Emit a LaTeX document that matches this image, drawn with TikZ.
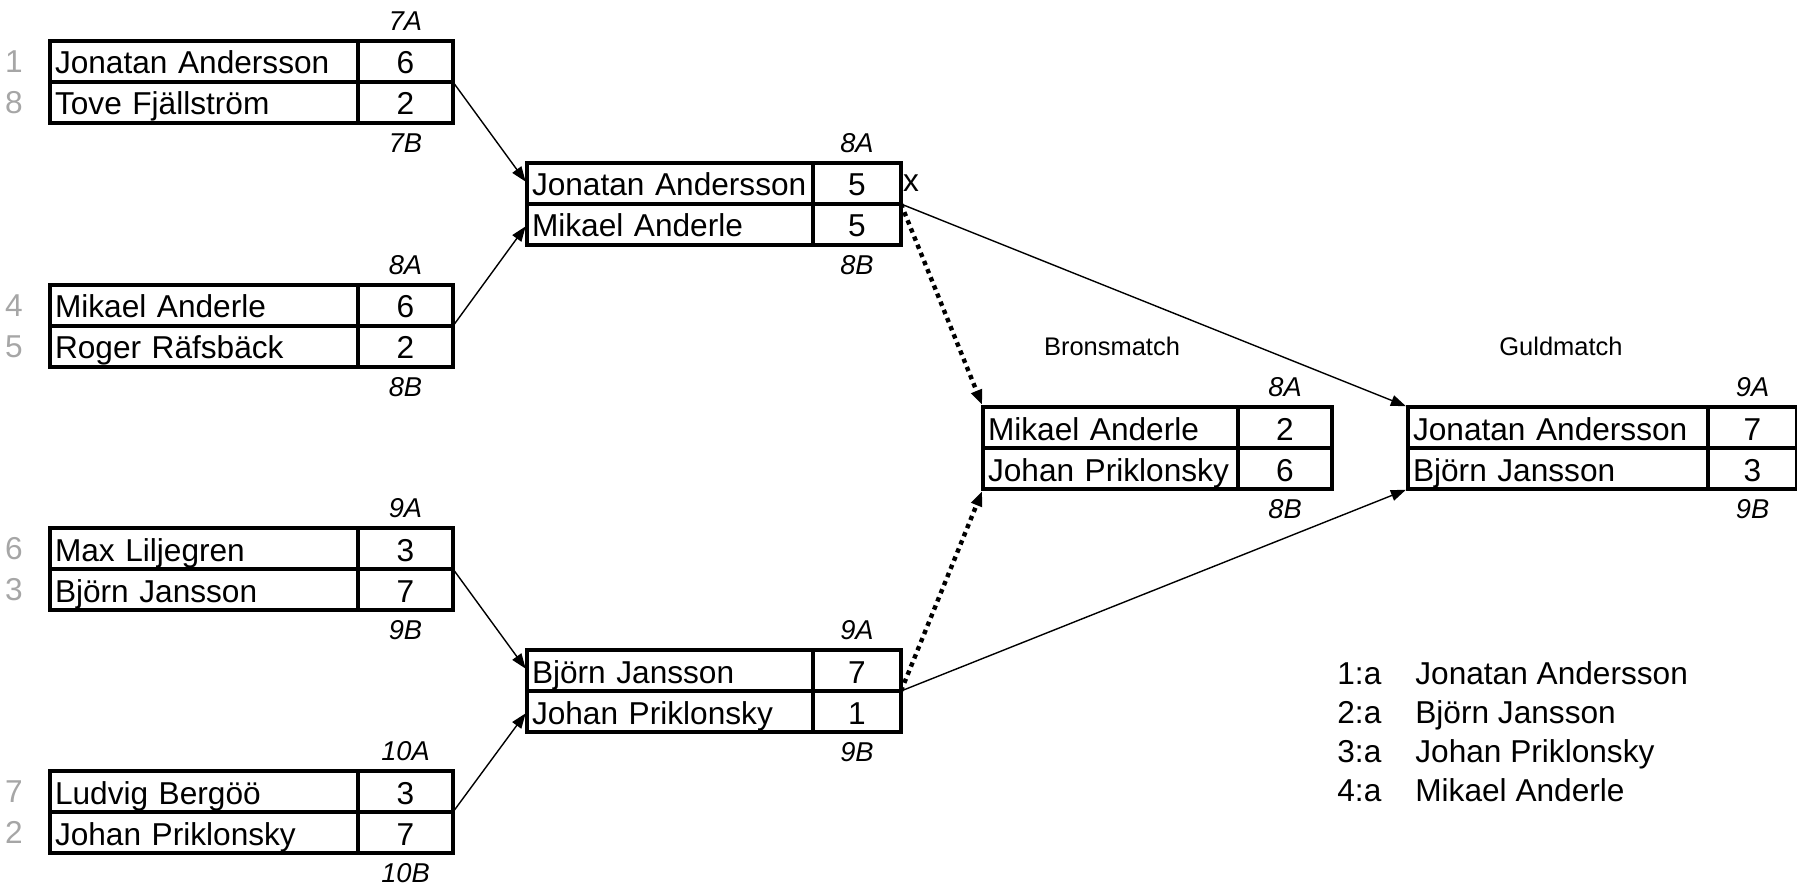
\documentclass[tikz,border=0pt]{standalone}
\usepackage{fontspec}
\setmainfont{Liberation Sans}
\usetikzlibrary{positioning,arrows.meta}
\begin{document}
\begin{tikzpicture}[
  cell/.style={draw, line width=2.6pt, outer sep=0pt, minimum height=0.82cm, inner ysep=0pt, text height=0.55cm, text depth=0.05cm, font=\fontsize{18}{20}\selectfont},
  namecell/.style={cell, anchor=north west, text width=#1, align=left, inner xsep=0.1cm},
  scorecell/.style={cell, minimum width=#1, inner xsep=0pt},
  tag/.style={font=\fontsize{15.5}{17}\selectfont\itshape},
  seed/.style={text=gray!70, font=\fontsize{18}{20}\selectfont},
  plain/.style={font=\fontsize{18}{20}\selectfont},
  small/.style={font=\fontsize{14.5}{16}\selectfont},
  legend/.style={plain, anchor=west, inner sep=0pt, text height=0.5cm, text depth=0.05cm},
  win/.style={-{Triangle[length=0.3cm,width=0.22cm]}, line width=0.8pt, shorten >=1.3pt},
  lose/.style={win, line width=2.5pt, dash pattern=on 2.5pt off 2.5pt}
]
\useasboundingbox (0,0) rectangle (35.94,17.8);
% forsta omgangen
\node[namecell=5.96cm] (qf1p1) at (1.0,16.98) {Jonatan Andersson};
\node[scorecell=1.9cm, right=0pt of qf1p1] (qf1s1) {6};
\node[namecell=5.96cm, below=0pt of qf1p1] (qf1p2) {Tove Fjällström};
\node[scorecell=1.9cm, right=0pt of qf1p2] (qf1s2) {2};
\node[seed] (qf1seed1) at ([xshift=-0.72cm]qf1p1.west) {1};
\node[seed] (qf1seed2) at ([xshift=-0.72cm]qf1p2.west) {8};
\node[tag] (qf1a) at ([yshift=0.4cm]qf1s1.north) {7A};
\node[tag] (qf1b) at ([yshift=-0.4cm]qf1s2.south) {7B};

\node[namecell=5.96cm] (qf2p1) at (1.0,12.1) {Mikael Anderle};
\node[scorecell=1.9cm, right=0pt of qf2p1] (qf2s1) {6};
\node[namecell=5.96cm, below=0pt of qf2p1] (qf2p2) {Roger Räfsbäck};
\node[scorecell=1.9cm, right=0pt of qf2p2] (qf2s2) {2};
\node[seed] (qf2seed1) at ([xshift=-0.72cm]qf2p1.west) {4};
\node[seed] (qf2seed2) at ([xshift=-0.72cm]qf2p2.west) {5};
\node[tag] (qf2a) at ([yshift=0.4cm]qf2s1.north) {8A};
\node[tag] (qf2b) at ([yshift=-0.4cm]qf2s2.south) {8B};

\node[namecell=5.96cm] (qf3p1) at (1.0,7.24) {Max Liljegren};
\node[scorecell=1.9cm, right=0pt of qf3p1] (qf3s1) {3};
\node[namecell=5.96cm, below=0pt of qf3p1] (qf3p2) {Björn Jansson};
\node[scorecell=1.9cm, right=0pt of qf3p2] (qf3s2) {7};
\node[seed] (qf3seed1) at ([xshift=-0.72cm]qf3p1.west) {6};
\node[seed] (qf3seed2) at ([xshift=-0.72cm]qf3p2.west) {3};
\node[tag] (qf3a) at ([yshift=0.4cm]qf3s1.north) {9A};
\node[tag] (qf3b) at ([yshift=-0.4cm]qf3s2.south) {9B};

\node[namecell=5.96cm] (qf4p1) at (1.0,2.38) {Ludvig Bergöö};
\node[scorecell=1.9cm, right=0pt of qf4p1] (qf4s1) {3};
\node[namecell=5.96cm, below=0pt of qf4p1] (qf4p2) {Johan Priklonsky};
\node[scorecell=1.9cm, right=0pt of qf4p2] (qf4s2) {7};
\node[seed] (qf4seed1) at ([xshift=-0.72cm]qf4p1.west) {7};
\node[seed] (qf4seed2) at ([xshift=-0.72cm]qf4p2.west) {2};
\node[tag] (qf4a) at ([yshift=0.4cm]qf4s1.north) {10A};
\node[tag] (qf4b) at ([yshift=-0.4cm]qf4s2.south) {10B};

% semifinaler
\node[namecell=5.52cm] (sf1p1) at (10.54,14.54) {Jonatan Andersson};
\node[scorecell=1.76cm, right=0pt of sf1p1] (sf1s1) {5};
\node[namecell=5.52cm, below=0pt of sf1p1] (sf1p2) {Mikael Anderle};
\node[scorecell=1.76cm, right=0pt of sf1p2] (sf1s2) {5};
\node[tag] (sf1a) at ([yshift=0.4cm]sf1s1.north) {8A};
\node[tag] (sf1b) at ([yshift=-0.4cm]sf1s2.south) {8B};
\node[plain, anchor=west, inner sep=1pt] (sf1x) at (sf1s1.east) {x};

\node[namecell=5.52cm] (sf2p1) at (10.54,4.8) {Björn Jansson};
\node[scorecell=1.76cm, right=0pt of sf2p1] (sf2s1) {7};
\node[namecell=5.52cm, below=0pt of sf2p1] (sf2p2) {Johan Priklonsky};
\node[scorecell=1.76cm, right=0pt of sf2p2] (sf2s2) {1};
\node[tag] (sf2a) at ([yshift=0.4cm]sf2s1.north) {9A};
\node[tag] (sf2b) at ([yshift=-0.4cm]sf2s2.south) {9B};

% bronsmatch
\node[small] (brtitle) at (22.24,10.88) {Bronsmatch};
\node[namecell=4.9cm] (brp1) at (19.66,9.66) {Mikael Anderle};
\node[scorecell=1.88cm, right=0pt of brp1] (brs1) {2};
\node[namecell=4.9cm, below=0pt of brp1] (brp2) {Johan Priklonsky};
\node[scorecell=1.88cm, right=0pt of brp2] (brs2) {6};
\node[tag] (bra) at ([yshift=0.4cm]brs1.north) {8A};
\node[tag] (brb) at ([yshift=-0.4cm]brs2.south) {8B};

% guldmatch
\node[small] (gdtitle) at (31.22,10.88) {Guldmatch};
\node[namecell=5.8cm] (gdp1) at (28.16,9.66) {Jonatan Andersson};
\node[scorecell=1.78cm, right=0pt of gdp1] (gds1) {7};
\node[namecell=5.8cm, below=0pt of gdp1] (gdp2) {Björn Jansson};
\node[scorecell=1.78cm, right=0pt of gdp2] (gds2) {3};
\node[tag] (gda) at ([yshift=0.4cm]gds1.north) {9A};
\node[tag] (gdb) at ([yshift=-0.4cm]gds2.south) {9B};

% slutplacering
\node[legend] (place1) at (26.74,4.34) {1:a};
\node[legend] (name1) at (28.3,4.34) {Jonatan Andersson};
\node[legend] (place2) at (26.74,3.56) {2:a};
\node[legend] (name2) at (28.3,3.56) {Björn Jansson};
\node[legend] (place3) at (26.74,2.78) {3:a};
\node[legend] (name3) at (28.3,2.78) {Johan Priklonsky};
\node[legend] (place4) at (26.74,2.0) {4:a};
\node[legend] (name4) at (28.3,2.0) {Mikael Anderle};

\draw[win] (qf1s1.south east) -- (sf1p1.west);
\draw[win] (qf2s1.south east) -- (sf1p2.west);
\draw[win] (qf3s1.south east) -- (sf2p1.west);
\draw[win] (qf4s1.south east) -- (sf2p2.west);
\draw[win] (sf1s1.south east) -- (gdp1.north west);
\draw[lose] (sf1s1.south east) -- (brp1.north west);
\draw[win] (sf2s1.south east) -- (gdp2.south west);
\draw[lose] (sf2s1.south east) -- (brp2.south west);
\end{tikzpicture}
\end{document}
